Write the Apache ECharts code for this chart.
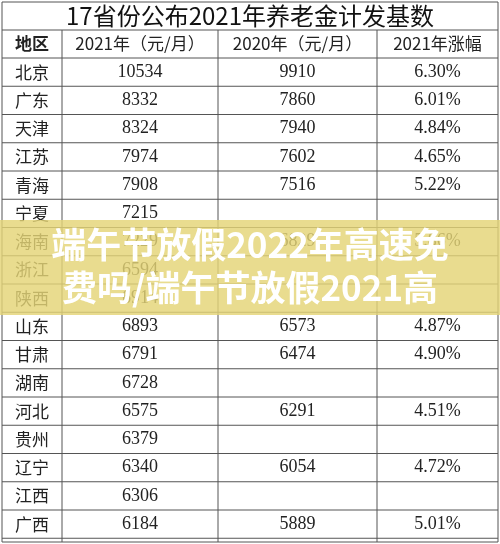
<!DOCTYPE html><html><head><meta charset="utf-8"><style>html,body{margin:0;padding:0;background:#fff}#c{width:500px;height:544px}</style>
<script src="https://cdn.jsdelivr.net/npm/echarts@6/dist/echarts.min.js"></script></head><body><div id="c"></div><script>
const title='17省份公布2021年养老金计发基数';
const headers=['地区','2021年（元/月）','2020年（元/月）','2021年涨幅'];
const regions=['北京','广东','天津','江苏','青海','宁夏','海南','浙江','陕西','山东','甘肃','湖南','河北','贵州','辽宁','江西','广西'];
const v2021=['10534','8332','8324','7974','7908','7215','7229','6594','6914','6893','6791','6728','6575','6379','6340','6306','6184'];
const v2020=['9910','7860','7940','7602','7516','','6829','','','6573','6474','','6291','','6054','','5889'];
const growth=['6.30%','6.01%','4.84%','4.65%','5.22%','','5.86%','','','4.87%','4.90%','','4.51%','','4.72%','','5.01%'];
const banner=['端午节放假2022年高速免','费吗/端午节放假2021高'];
const chart=echarts.init(document.getElementById('c'));
const cols=[2,62,218,377,498],top0=30,hh=28,rh=28.25,line='#555';
const els=[];
els.push({type:'rect',shape:{x:2,y:2,width:496,height:540},style:{fill:'#fff',stroke:line,lineWidth:1}});
els.push({type:'text',style:{text:title,x:250,y:16,align:'center',verticalAlign:'middle',font:'24px "Noto Sans CJK SC"',fill:'#111'}});
const rowsY=[top0,top0+hh];for(let i=1;i<=regions.length;i++)rowsY.push(top0+hh+i*rh);
rowsY.forEach(y=>{if(y<542)els.push({type:'line',shape:{x1:2,y1:y,x2:498,y2:y},style:{stroke:line,lineWidth:1}})});
cols.slice(1,4).forEach(x=>els.push({type:'line',shape:{x1:x,y1:top0,x2:x,y2:542},style:{stroke:line,lineWidth:1}}));
function cell(c,y,t,font){els.push({type:'text',style:{text:t,x:(cols[c]+cols[c+1])/2,y:y,align:'center',verticalAlign:'middle',font:font,fill:'#222'}});}
headers.forEach((h,c)=>cell(c,top0+hh/2,h,(c==0?'bold ':'')+'17px "Noto Sans CJK SC"'));
regions.forEach((r,i)=>{const y=top0+hh+i*rh+rh/2;cell(0,y,r,'17px "Noto Sans CJK SC"');cell(1,y,v2021[i],'18px "Liberation Serif"');cell(2,y,v2020[i],'18px "Liberation Serif"');cell(3,y,growth[i],'18px "Liberation Serif"');});
els.push({type:'rect',shape:{x:0,y:220,width:500,height:95},style:{fill:'rgba(228,212,118,0.82)'}});
banner.forEach((t,i)=>els.push({type:'text',style:{text:t,x:250,y:245+i*43,align:'center',verticalAlign:'middle',font:'bold 35px "Noto Sans CJK SC"',fill:'#fff'}}));
chart.setOption({animation:false,graphic:{elements:els}});
</script></body></html>
